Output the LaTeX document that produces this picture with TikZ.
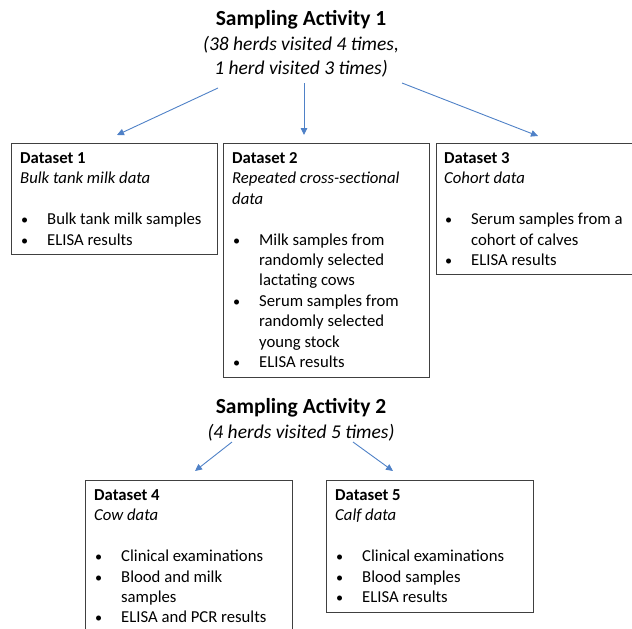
\documentclass[tikz,border=0pt]{standalone}
\usepackage{fontspec}
\setmainfont{Carlito}
\usetikzlibrary{arrows.meta}
\definecolor{arrowblue}{RGB}{79,129,199}
\definecolor{boxgray}{RGB}{64,64,64}
\newcommand{\bodyfont}{\fontsize{16.7}{20.4}\selectfont}
\newcommand{\titlefont}{\fontsize{21.5}{24.6}\selectfont}
\newcommand{\subfont}{\fontsize{19.5}{24.6}\selectfont}
\newcommand{\bul}{\makebox[27pt][l]{\hspace*{1pt}\scalebox{0.85}{\textbullet}}}
\newcommand{\ind}{\hspace*{27pt}}
\tikzset{
  x=1pt, y=-1pt,
  dsbox/.style={draw=boxgray, line width=0.9pt, inner sep=0pt, anchor=north west},
  dstext/.style={anchor=north west, inner sep=0pt, align=left, font=\bodyfont},
  titletext/.style={anchor=north, inner sep=0pt, align=center, font=\titlefont},
  arr/.style={draw=arrowblue, line width=0.9pt, -{Triangle[length=7pt,width=6.5pt]}}
}
\begin{document}
\begin{tikzpicture}
\useasboundingbox (0,0) rectangle (632,629);
% titles
\node[titletext] (t1) at (301,8) {\strut\textbf{Sampling Activity 1}\\\strut{\subfont\itshape (38 herds visited 4 times,}\\\strut{\subfont\itshape 1 herd visited 3 times)}};
\node[titletext] (t2) at (301,396) {\strut\textbf{Sampling Activity 2}\\\strut{\subfont\itshape (4 herds visited 5 times)}};
% boxes
\node[dsbox, minimum width=206pt, minimum height=111pt] (b1) at (11,143) {};
\node[dsbox, minimum width=206pt, minimum height=234pt] (b2) at (223,143) {};
\node[dsbox, minimum width=210pt, minimum height=131pt] (b3) at (436,143) {};
\node[dsbox, minimum width=207pt, minimum height=170pt] (b4) at (85,480) {};
\node[dsbox, minimum width=207pt, minimum height=132pt] (b5) at (326,480) {};
% box texts
\node[dstext] (x1) at (20,149) {\strut\textbf{Dataset 1}\\\strut\textit{Bulk tank milk data}\\[20.4pt]\strut\bul Bulk tank milk samples\\\strut\bul ELISA results};
\node[dstext] (x2) at (232,149) {\strut\textbf{Dataset 2}\\\strut\textit{Repeated cross-sectional}\\\strut\textit{data}\\[20.4pt]\strut\bul Milk samples from\\\strut\ind randomly selected\\\strut\ind lactating cows\\\strut\bul Serum samples from\\\strut\ind randomly selected\\\strut\ind young stock\\\strut\bul ELISA results};
\node[dstext] (x3) at (444,149) {\strut\textbf{Dataset 3}\\\strut\textit{Cohort data}\\[20.4pt]\strut\bul Serum samples from a\\\strut\ind cohort of calves\\\strut\bul ELISA results};
\node[dstext] (x4) at (94,486) {\strut\textbf{Dataset 4}\\\strut\textit{Cow data}\\[20.4pt]\strut\bul Clinical examinations\\\strut\bul Blood and milk\\\strut\ind samples\\\strut\bul ELISA and PCR results};
\node[dstext] (x5) at (335,486) {\strut\textbf{Dataset 5}\\\strut\textit{Calf data}\\[20.4pt]\strut\bul Clinical examinations\\\strut\bul Blood samples\\\strut\bul ELISA results};
% arrow end points
\coordinate (a1s) at (218,88);  \coordinate (a1e) at (117,135);
\coordinate (a2s) at (304,83);  \coordinate (a2e) at (304,135);
\coordinate (a3s) at (402,83);  \coordinate (a3e) at (538,136);
\coordinate (a4s) at (232,442); \coordinate (a4e) at (195,471);
\coordinate (a5s) at (353,442); \coordinate (a5e) at (393,471);
\draw[arr] (a1s) -- (a1e);
\draw[arr] (a2s) -- (a2e);
\draw[arr] (a3s) -- (a3e);
\draw[arr] (a4s) -- (a4e);
\draw[arr] (a5s) -- (a5e);
\end{tikzpicture}
\end{document}
